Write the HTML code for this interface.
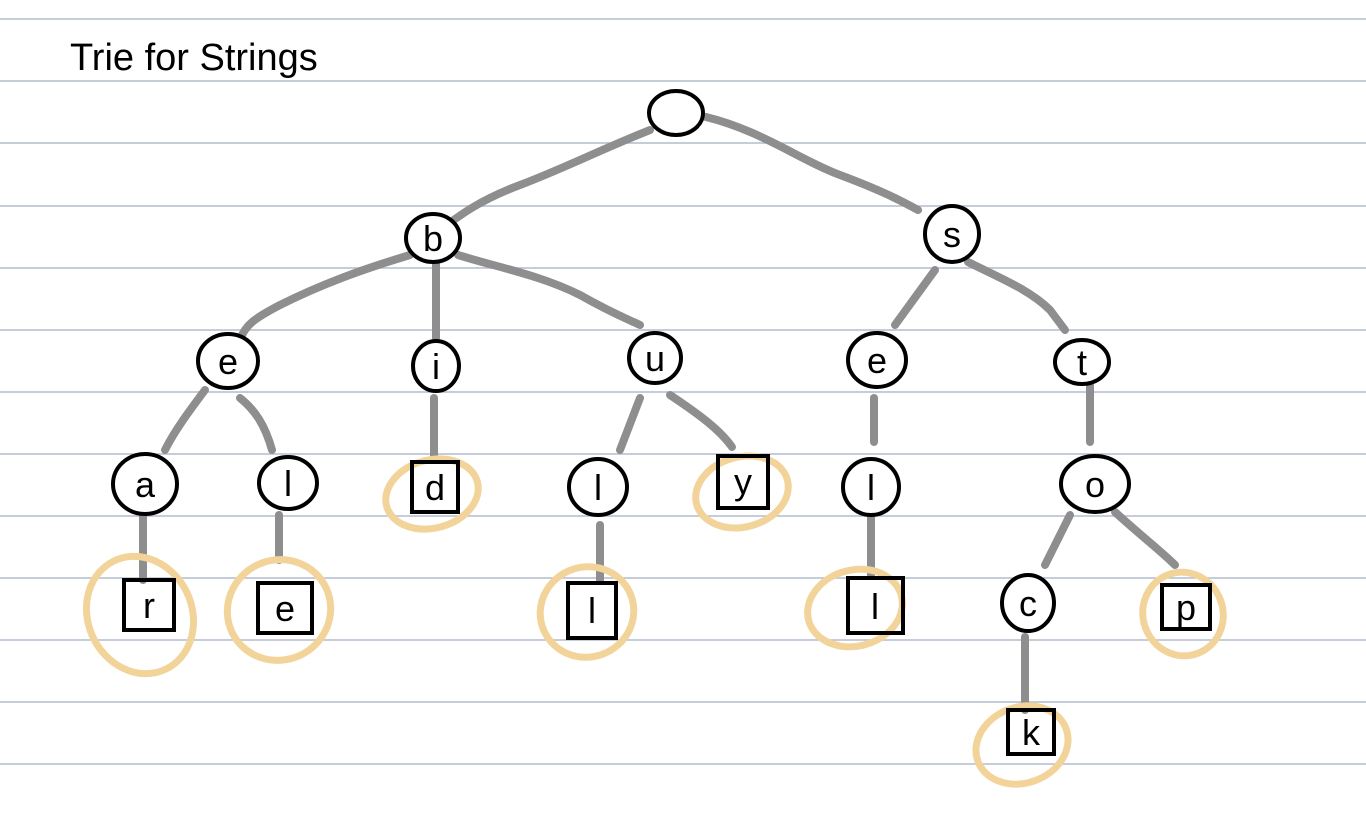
<!DOCTYPE html>
<html><head><meta charset="utf-8"><style>
html,body{margin:0;padding:0;background:#fff}
svg{display:block}
text{font-family:"Liberation Sans",sans-serif}
</style></head><body>
<svg width="1366" height="820" viewBox="0 0 1366 820">
<g stroke="#b2bccd" stroke-width="1.5">
<line x1="0" y1="19" x2="1366" y2="19"/><line x1="0" y1="81" x2="1366" y2="81"/>
<line x1="0" y1="143" x2="1366" y2="143"/><line x1="0" y1="206" x2="1366" y2="206"/>
<line x1="0" y1="268" x2="1366" y2="268"/><line x1="0" y1="330" x2="1366" y2="330"/>
<line x1="0" y1="392" x2="1366" y2="392"/><line x1="0" y1="454" x2="1366" y2="454"/>
<line x1="0" y1="516" x2="1366" y2="516"/><line x1="0" y1="578" x2="1366" y2="578"/>
<line x1="0" y1="640" x2="1366" y2="640"/><line x1="0" y1="702" x2="1366" y2="702"/>
<line x1="0" y1="764" x2="1366" y2="764"/>
</g>
<text x="70" y="70" font-size="38" fill="#000" style="font-family:'Liberation Sans',sans-serif">Trie for Strings</text>
<g stroke="#8e8e8e" stroke-width="8" fill="none" stroke-linecap="round">
<path d="M650 130 C600 150 560 170 520 185 C480 200 460 215 440 230"/>
<path d="M706 117 C760 130 800 160 840 175 C880 190 900 200 918 210"/>
<path d="M410 255 C360 270 320 285 280 305 C255 318 245 325 240 340"/>
<path d="M436 262 L436 338"/>
<path d="M458 255 C500 268 540 275 580 295 C610 312 625 318 640 325"/>
<path d="M935 270 L895 325"/>
<path d="M968 262 C1000 278 1030 290 1050 310 L1065 330"/>
<path d="M205 390 C190 410 175 430 165 450"/>
<path d="M240 398 C255 410 265 425 272 450"/>
<path d="M434 398 L434 460"/>
<path d="M640 398 L620 450"/>
<path d="M670 395 C700 415 720 430 732 447"/>
<path d="M874 398 L874 442"/>
<path d="M1090 385 L1090 442"/>
<path d="M143 515 L143 580"/>
<path d="M279 515 L279 560"/>
<path d="M600 525 L600 580"/>
<path d="M871 518 L871 575"/>
<path d="M1070 515 L1045 565"/>
<path d="M1115 512 C1140 535 1160 550 1175 565"/>
<path d="M1025 637 L1025 710"/>
</g>
<g stroke="#f2d49a" stroke-width="7" fill="none">
<ellipse cx="432" cy="494" rx="47" ry="34" transform="rotate(-15 432 494)"/>
<ellipse cx="742" cy="492" rx="47" ry="35" transform="rotate(-15 742 492)"/>
<ellipse cx="140" cy="615" rx="52" ry="60" transform="rotate(-25 140 615)"/>
<ellipse cx="279" cy="610" rx="52" ry="50" transform="rotate(-25 279 610)"/>
<ellipse cx="587" cy="612" rx="47" ry="45" transform="rotate(-20 587 612)"/>
<ellipse cx="855" cy="608" rx="48" ry="38" transform="rotate(-15 855 608)"/>
<ellipse cx="1183" cy="614" rx="40" ry="42" transform="rotate(-20 1183 614)"/>
<ellipse cx="1022" cy="745" rx="47" ry="38" transform="rotate(-20 1022 745)"/>
</g>
<g stroke="#000" stroke-width="4" fill="#fff">
<ellipse cx="676" cy="113" rx="27" ry="22"/>
<ellipse cx="433" cy="238" rx="27" ry="24"/>
<ellipse cx="952" cy="234" rx="27" ry="28"/>
<ellipse cx="228" cy="361" rx="30" ry="27"/>
<ellipse cx="436" cy="366" rx="23" ry="25"/>
<ellipse cx="655" cy="358" rx="26" ry="25"/>
<ellipse cx="877" cy="360" rx="29" ry="27"/>
<ellipse cx="1082" cy="362" rx="27" ry="22"/>
<ellipse cx="145" cy="484" rx="32" ry="30"/>
<ellipse cx="288" cy="483" rx="29" ry="26"/>
<ellipse cx="598" cy="487" rx="29" ry="28"/>
<ellipse cx="871" cy="487" rx="28" ry="28"/>
<ellipse cx="1095" cy="484" rx="34" ry="28"/>
<ellipse cx="1028" cy="603" rx="26" ry="28"/>
</g>
<g stroke="#000" stroke-width="4" fill="none">
<rect x="412" y="462" width="46" height="50"/>
<rect x="718" y="456" width="50" height="52"/>
<rect x="124" y="580" width="50" height="50"/>
<rect x="258" y="583" width="54" height="50"/>
<rect x="568" y="583" width="48" height="55"/>
<rect x="848" y="578" width="55" height="55"/>
<rect x="1162" y="585" width="48" height="44"/>
<rect x="1008" y="710" width="46" height="44"/>
</g>
<g font-size="36" text-anchor="middle" fill="#000" style="font-family:'Liberation Sans',sans-serif">
<text x="433" y="251">b</text><text x="952" y="247">s</text>
<text x="228" y="374">e</text><text x="436" y="379">i</text><text x="655" y="371">u</text>
<text x="877" y="373">e</text><text x="1082" y="375">t</text>
<text x="145" y="497">a</text><text x="288" y="496">l</text><text x="598" y="500">l</text>
<text x="871" y="500">l</text><text x="1095" y="497">o</text><text x="1028" y="616">c</text>
<text x="435" y="500">d</text><text x="743" y="494">y</text>
<text x="149" y="618">r</text><text x="285" y="621">e</text><text x="592" y="623">l</text>
<text x="875" y="619">l</text><text x="1186" y="620">p</text><text x="1031" y="745">k</text>
</g>
</svg>
</body></html>
